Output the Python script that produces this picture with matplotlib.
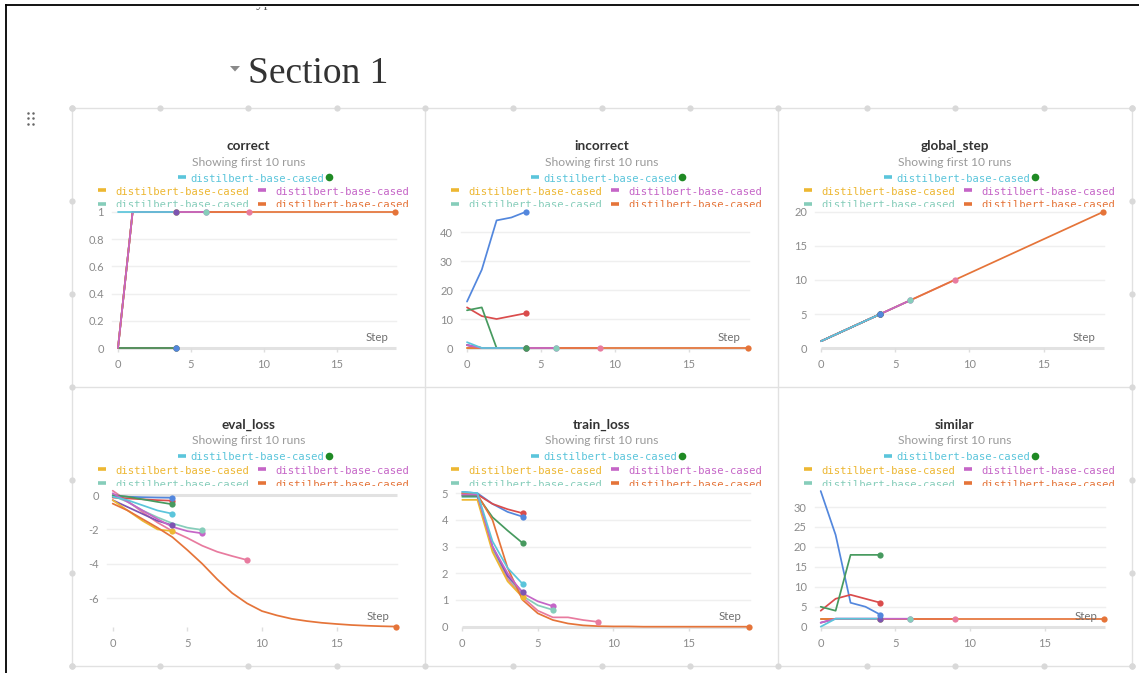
import matplotlib
matplotlib.use("Agg")
import matplotlib.pyplot as plt
from matplotlib.patches import Rectangle, Polygon
from matplotlib.transforms import Bbox

# ---------------------------------------------------------------- data
run_colors = {
    "blue": "#5387DD", "red": "#DA4C4C", "green": "#479A5F", "purple": "#7D54B2",
    "pink": "#E87B9F", "orange": "#E57439", "cyan": "#5BC5DB", "yellow": "#EDB732",
    "lilac": "#C565C7", "teal": "#86CDBA",
}
line_order = ["pink", "teal", "blue", "red", "purple", "yellow", "green", "orange", "lilac", "cyan"]
marker_order = ["pink", "orange", "lilac", "teal", "cyan", "yellow", "red", "purple", "green", "blue"]

run_name = "distilbert-base-cased"
subtitle = "Showing first 10 runs"
x_ticks = [0, 5, 10, 15]

correct = {
    "blue": [0, 0, 0, 0, 0],
    "red": [0, 0, 0, 0, 0],
    "green": [0, 0, 0, 0, 0],
    "purple": [0, 1, 1, 1, 1],
    "cyan": [1, 1, 1, 1, 1],
    "yellow": [0, 1, 1, 1, 1],
    "teal": [0, 1, 1, 1, 1, 1, 1],
    "lilac": [0, 1, 1, 1, 1, 1, 1],
    "pink": [0, 1, 1, 1, 1, 1, 1, 1, 1, 1],
    "orange": [0, 1, 1, 1, 1, 1, 1, 1, 1, 1, 1, 1, 1, 1, 1, 1, 1, 1, 1, 1],
}
incorrect = {
    "blue": [16, 27, 44, 45, 47],
    "red": [14, 11, 10, 11, 12],
    "green": [13, 14, 0, 0, 0],
    "purple": [1, 0, 0, 0, 0],
    "cyan": [2, 0, 0, 0, 0],
    "yellow": [0, 0, 0, 0, 0],
    "teal": [1, 0, 0, 0, 0, 0, 0],
    "lilac": [1, 0, 0, 0, 0, 0, 0],
    "pink": [1, 0, 0, 0, 0, 0, 0, 0, 0, 0],
    "orange": [0, 0, 0, 0, 0, 0, 0, 0, 0, 0, 0, 0, 0, 0, 0, 0, 0, 0, 0, 0],
}
global_step = {
    "blue": [1, 2, 3, 4, 5],
    "red": [1, 2, 3, 4, 5],
    "green": [1, 2, 3, 4, 5],
    "purple": [1, 2, 3, 4, 5],
    "cyan": [1, 2, 3, 4, 5],
    "yellow": [1, 2, 3, 4, 5],
    "teal": [1, 2, 3, 4, 5, 6, 7],
    "lilac": [1, 2, 3, 4, 5, 6, 7],
    "pink": [1, 2, 3, 4, 5, 6, 7, 8, 9, 10],
    "orange": [1, 2, 3, 4, 5, 6, 7, 8, 9, 10, 11, 12, 13, 14, 15, 16, 17, 18, 19, 20],
}
eval_loss = {
    "blue": [-0.05, -0.1, -0.13, -0.15, -0.16],
    "red": [-0.15, -0.2, -0.25, -0.3, -0.33],
    "green": [0.0, -0.1, -0.25, -0.4, -0.54],
    "purple": [-0.3, -0.7, -1.1, -1.5, -1.76],
    "cyan": [-0.1, -0.3, -0.6, -0.9, -1.09],
    "yellow": [-0.3, -0.9, -1.5, -2.0, -2.1],
    "teal": [-0.05, -0.4, -0.9, -1.3, -1.65, -1.9, -2.03],
    "lilac": [0.1, -0.4, -0.9, -1.4, -1.85, -2.1, -2.23],
    "pink": [0.25, -0.35, -1.0, -1.6, -2.1, -2.5, -2.95, -3.3, -3.55, -3.78],
    "orange": [-0.5, -0.9, -1.4, -1.9, -2.45, -3.2, -4.0, -4.9, -5.7, -6.3,
               -6.75, -7.0, -7.2, -7.33, -7.43, -7.5, -7.56, -7.6, -7.63, -7.65],
}
train_loss = {
    "blue": [5.05, 5.0, 4.6, 4.3, 4.12],
    "red": [5.0, 4.95, 4.6, 4.4, 4.25],
    "green": [4.9, 4.9, 4.1, 3.6, 3.13],
    "purple": [4.9, 4.9, 3.0, 1.9, 1.29],
    "cyan": [5.05, 5.0, 3.2, 2.2, 1.6],
    "yellow": [4.75, 4.75, 2.8, 1.7, 1.1],
    "teal": [4.85, 4.85, 2.9, 1.9, 1.15, 0.8, 0.63],
    "lilac": [4.95, 4.95, 3.0, 2.0, 1.25, 0.95, 0.77],
    "pink": [4.95, 4.9, 2.9, 1.8, 1.1, 0.6, 0.35, 0.35, 0.25, 0.18],
    "orange": [5.0, 4.95, 4.0, 2.2, 1.0, 0.5, 0.25, 0.12, 0.05, 0.02,
               0.01, 0.01, 0.0, 0.0, 0.0, 0.0, 0.0, 0.0, 0.0, 0.0],
}
similar = {
    "blue": [34, 23, 6, 5, 3],
    "red": [4, 7, 8, 7, 6],
    "green": [5, 4, 18, 18, 18],
    "purple": [1, 2, 2, 2, 2],
    "cyan": [0, 2, 2, 2, 2],
    "yellow": [2, 2, 2, 2, 2],
    "teal": [2, 2, 2, 2, 2, 2, 2],
    "lilac": [1, 2, 2, 2, 2, 2, 2],
    "pink": [2, 2, 2, 2, 2, 2, 2, 2, 2, 2],
    "orange": [2, 2, 2, 2, 2, 2, 2, 2, 2, 2, 2, 2, 2, 2, 2, 2, 2, 2, 2, 2],
}

# ---------------------------------------------------------------- layout
W, H = 1139, 673
fig = plt.figure(figsize=(W / 100, H / 100), dpi=100)
fig.patch.set_facecolor("white")
bg = fig.add_axes([0, 0, 1, 1])
bg.set_xlim(0, W)
bg.set_ylim(H, 0)
bg.axis("off")

SANS = "Lato"
MONO = "DejaVu Sans Mono"


def clip_below(artist, y_top_px, y_bottom_px=H):
    """Clip an artist to the band between two page rows (pixels from the top)."""
    artist.set_clip_on(True)
    artist.set_clip_box(Bbox.from_extents(0, H - y_bottom_px, W, H - y_top_px))


# page frame
bg.plot([6, 6], [5, H], color="black", lw=1.3)
bg.plot([6, W], [5, 5], color="black", lw=1.3)

# text scrolled mostly out of view above the section
t = bg.text(248, 7, "Type '/'", family="Liberation Serif", size=11, color="#555555",
            ha="left", va="baseline")
clip_below(t, 6.5, 30)

# section header
bg.add_patch(Polygon([(230, 66), (240, 66), (235, 71.5)], closed=True,
                     color="#8a8a8a", lw=0))
bg.text(248, 83, "Section 1", family="Liberation Serif", size=27, color="#333333",
        ha="left", va="baseline")

# drag handle
for dx in (27.5, 32.5):
    for dy in (112.5, 118, 123.5):
        bg.plot(dx, dy, "o", ms=1.8, color="#666666", mec="none")

# panel frames and resize handles
grid_color = "#e1e1e1"
bg.add_patch(Rectangle((72, 108), 1060, 558, fill=False, ec=grid_color, lw=1))
for xx in (425, 778):
    bg.plot([xx, xx], [108, 666], color=grid_color, lw=1)
bg.plot([72, 1132], [387, 387], color=grid_color, lw=1)
dot_x = [72, 160, 248, 337, 425, 513, 602, 690, 778, 867, 955, 1044, 1132]
dot_y = [108, 201, 294, 387, 480, 573, 666]
bg.plot(dot_x, [108] * len(dot_x), "o", ms=4.5, color="#d9d9d9", mec="none")
bg.plot(dot_x, [666] * len(dot_x), "o", ms=4.5, color="#d9d9d9", mec="none")
bg.plot([72] * len(dot_y), dot_y, "o", ms=4.5, color="#d9d9d9", mec="none")
bg.plot([1132] * len(dot_y), dot_y, "o", ms=4.5, color="#d9d9d9", mec="none")


def draw_legend(left, top):
    # first row, centred, with the running indicator
    c = run_colors["cyan"]
    bg.plot([left + 106, left + 114], [top + 68.5] * 2, color=c, lw=2.6, solid_capstyle="butt")
    bg.text(left + 118, top + 73.5, run_name, family=MONO, size=7.6, color=c, va="baseline")
    bg.plot(left + 257, top + 69, "o", ms=5.5, color="#1f8a24", mec="none")
    rows = [(81.5, 87.0, "yellow", "lilac", False), (95.5, 100.5, "teal", "orange", True)]
    for dash_y, base_y, c1, c2, cut in rows:
        for dx, key in ((26, c1), (186, c2)):
            col = run_colors[key]
            bg.plot([left + dx, left + dx + 8], [top + dash_y] * 2, color=col, lw=2.6,
                    solid_capstyle="butt")
            txt = bg.text(left + dx + 17, top + base_y, run_name, family=MONO, size=7.6,
                          color=col, va="baseline")
            if cut:
                clip_below(txt, top + 60, top + 99.3)


panels = [
    dict(title="correct", data=correct, left=72, top=108, right=425,
         x0=118.0, xppu=14.6, y0=348.0, yppu=136.0, ylim=(0, 1),
         yticks=[0, 0.2, 0.4, 0.6, 0.8, 1], ylabels=["0", "0.2", "0.4", "0.6", "0.8", "1"]),
    dict(title="incorrect", data=incorrect, left=425, top=108, right=778,
         x0=467.0, xppu=14.79, y0=348.0, yppu=2.9, ylim=(0, 47),
         yticks=[0, 10, 20, 30, 40], ylabels=["0", "10", "20", "30", "40"]),
    dict(title="global_step", data=global_step, left=778, top=108, right=1132,
         x0=821.0, xppu=14.84, y0=348.0, yppu=6.8, ylim=(0, 20),
         yticks=[0, 5, 10, 15, 20], ylabels=["0", "5", "10", "15", "20"]),
    dict(title="eval_loss", data=eval_loss, left=72, top=387, right=425,
         x0=112.7, xppu=14.93, y0=495.0, yppu=17.2, ylim=(-7.67, 0.29),
         yticks=[0, -2, -4, -6], ylabels=["0", "-2", "-4", "-6"]),
    dict(title="train_loss", data=train_loss, left=425, top=387, right=778,
         x0=462.3, xppu=15.1, y0=626.7, yppu=26.7, ylim=(0, 5.05),
         yticks=[0, 1, 2, 3, 4, 5], ylabels=["0", "1", "2", "3", "4", "5"]),
    dict(title="similar", data=similar, left=778, top=387, right=1132,
         x0=820.7, xppu=14.93, y0=626.7, yppu=3.99, ylim=(0, 34),
         yticks=[0, 5, 10, 15, 20, 25, 30], ylabels=["0", "5", "10", "15", "20", "25", "30"]),
]

for p in panels:
    cx = (p["left"] + p["right"]) / 2
    bg.text(cx, p["top"] + 42, p["title"], family=SANS, weight="bold", size=9.7,
            color="#333333", ha="center", va="baseline")
    bg.text(cx, p["top"] + 57.5, subtitle, family=SANS, size=8.7, color="#9a9a9a",
            ha="center", va="baseline")
    draw_legend(p["left"], p["top"])

    xl = (-6.0 / p["xppu"], 19.05)
    yl = p["ylim"]
    left_px = p["x0"] + xl[0] * p["xppu"]
    right_px = p["x0"] + xl[1] * p["xppu"]
    top_px = p["y0"] - yl[1] * p["yppu"]
    bot_px = p["y0"] - yl[0] * p["yppu"]
    ax = fig.add_axes([left_px / W, 1 - bot_px / H, (right_px - left_px) / W,
                       (bot_px - top_px) / H])
    ax.set_xlim(xl)
    ax.set_ylim(yl)
    ax.patch.set_alpha(0)
    for s in ax.spines.values():
        s.set_visible(False)

    # horizontal grid and the zero line
    for yt in p["yticks"]:
        if yt == 0:
            ax.plot([0, xl[1]], [0, 0], color="#e2e2e2", lw=2.2, zorder=0.5,
                    clip_on=False, solid_capstyle="butt")
        else:
            ax.plot([xl[0], xl[1]], [yt, yt], color="#efefef", lw=1, zorder=0.4,
                    clip_on=False)

    ax.set_xticks(x_ticks)
    ax.set_xticklabels([str(v) for v in x_ticks])
    ax.set_yticks(p["yticks"])
    ax.set_yticklabels(p["ylabels"])
    ax.tick_params(axis="x", length=3.2, width=1, color="#dedede", pad=5,
                   labelsize=8, labelcolor="#8a8a8a")
    ax.tick_params(axis="y", length=0, pad=5.8, labelsize=8, labelcolor="#8a8a8a")
    for lab in ax.get_xticklabels() + ax.get_yticklabels():
        lab.set_family(SANS)

    ax.annotate("Step", xy=(1, 0), xycoords="axes fraction", xytext=(-8, 7),
                textcoords="offset pixels", ha="right", va="baseline",
                family=SANS, size=8.3, color="#707070", zorder=5)

    data = p["data"]
    for z, key in enumerate(line_order):
        vals = data[key]
        ax.plot(range(len(vals)), vals, color=run_colors[key], lw=1.25,
                solid_capstyle="round", solid_joinstyle="round", clip_on=False,
                zorder=2 + z * 0.01)
    for z, key in enumerate(marker_order):
        vals = data[key]
        ax.plot([len(vals) - 1], [vals[-1]], "o", ms=4.5, color=run_colors[key],
                mec="none", clip_on=False, zorder=3 + z * 0.01)

fig.savefig("out.png", dpi=100, facecolor="white")
